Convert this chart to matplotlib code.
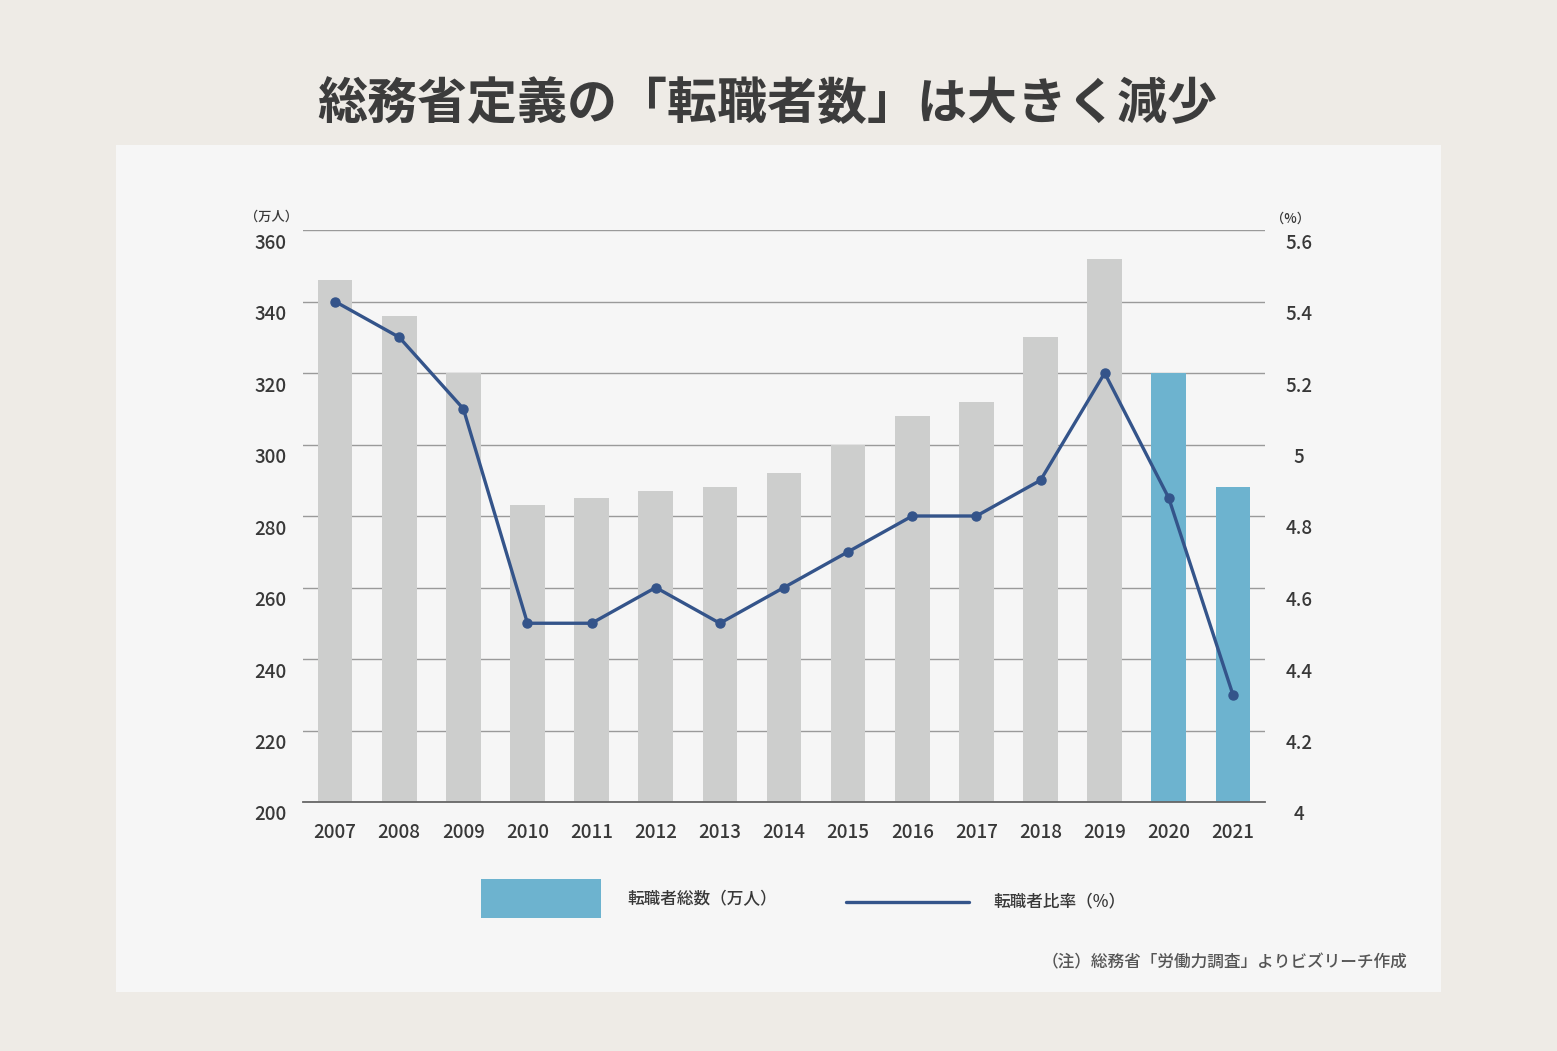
import matplotlib.pyplot as plt
from matplotlib.patches import Rectangle
from matplotlib.lines import Line2D
from matplotlib.transforms import ScaledTranslation

plt.rcParams['font.family'] = ['Noto Sans CJK JP', 'DejaVu Sans']

years = ['2007', '2008', '2009', '2010', '2011', '2012', '2013', '2014',
         '2015', '2016', '2017', '2018', '2019', '2020', '2021']
# 転職者総数（万人）
movers = [346, 336, 320, 283, 285, 287, 288, 292, 300, 308, 312, 330, 352, 320, 288]
# 転職者比率（%）
ratio = [5.4, 5.3, 5.1, 4.5, 4.5, 4.6, 4.5, 4.6, 4.7, 4.8, 4.8, 4.9, 5.2, 4.85, 4.3]

left_ticks = [200, 220, 240, 260, 280, 300, 320, 340, 360]
right_ticks = [4, 4.2, 4.4, 4.6, 4.8, 5, 5.2, 5.4, 5.6]
legend_labels = ['転職者総数（万人）', '転職者比率（%）']

gray = '#cdcecd'
blue = '#6db3cf'
navy = '#34548a'
txt = '#383838'
wt = 'medium'

W, H = 1557, 1051
fig = plt.figure(figsize=(15.57, 10.51), dpi=100, facecolor='#eeebe6')
fig.patches.append(Rectangle((116 / W, 59 / H), 1325 / W, 847 / H,
                             transform=fig.transFigure, facecolor='#f6f6f6',
                             edgecolor='none', zorder=-10))

ax = fig.add_axes([303 / W, 249 / H, 962 / W, 572 / H])
ax.set_facecolor('none')
x = list(range(len(years)))
colors = [gray] * 13 + [blue] * 2
ax.bar(x, [m - 200 for m in movers], bottom=200, width=0.54, color=colors, zorder=2)
ax.set_xlim(-0.5, 14.5)
ax.set_ylim(200, 360)
ax.set_yticks(left_ticks)
ax.set_yticklabels([str(t) for t in left_ticks])
ax.set_xticks(x)
ax.set_xticklabels(years)
ax.grid(axis='y', color='#9a9a9a', linewidth=1, zorder=1)
for s in ['top', 'left', 'right']:
    ax.spines[s].set_visible(False)
ax.spines['bottom'].set_color('#666666')
ax.spines['bottom'].set_linewidth(1.3)
ax.tick_params(axis='y', length=0, pad=12, labelsize=13.5, labelcolor=txt)
ax.tick_params(axis='x', length=0, pad=15, labelsize=13.5, labelcolor=txt)
for lab in ax.get_xticklabels() + ax.get_yticklabels():
    lab.set_fontweight(wt)

ax2 = ax.twinx()
ax2.plot(x, ratio, color=navy, linewidth=2.4, marker='o', markersize=6.5, zorder=3)
ax2.set_ylim(4, 5.6)
ax2.set_yticks(right_ticks)
ax2.set_yticklabels(['%g' % t for t in right_ticks], ha='center')
for s in ['top', 'left', 'right', 'bottom']:
    ax2.spines[s].set_visible(False)
ax2.tick_params(axis='y', length=0, pad=24.5, labelsize=13.5, labelcolor=txt)
for lab in ax2.get_yticklabels():
    lab.set_fontweight(wt)

# tick labels sit a little below their gridlines
shift = ScaledTranslation(0, -0.11, fig.dpi_scale_trans)
for t in ax.yaxis.get_major_ticks() + ax2.yaxis.get_major_ticks():
    t.label1.set_transform(t.label1.get_transform() + shift)
    t.label2.set_transform(t.label2.get_transform() + shift)

fig.text(272 / W, 1 - 217 / H, '（万人）', ha='center', va='center',
         fontsize=9.5, color=txt, fontweight=wt)
fig.text(1291 / W, 1 - 219 / H, '（%）', ha='center', va='center',
         fontsize=9.5, color=txt, fontweight=wt)

fig.text(767 / W, 1 - 104 / H, '総務省定義の「転職者数」は大きく減少',
         ha='center', va='center', fontsize=36, fontweight='bold', color='#3c3c3c')

# legend
fig.patches.append(Rectangle((481 / W, 1 - 918 / H), 120 / W, 39 / H,
                             transform=fig.transFigure, facecolor=blue,
                             edgecolor='none'))
fig.text(627 / W, 1 - 899 / H, legend_labels[0], ha='left', va='center',
         fontsize=12, fontweight=wt, color=txt)
fig.lines.append(Line2D([846 / W, 969 / W], [1 - 902 / H, 1 - 902 / H],
                        transform=fig.transFigure, color=navy, linewidth=2.4,
                        solid_capstyle='round'))
fig.text(993 / W, 1 - 901 / H, legend_labels[1], ha='left', va='center',
         fontsize=12, fontweight=wt, color=txt)

fig.text(1407 / W, 1 - 962 / H, '（注）総務省「労働力調査」よりビズリーチ作成',
         ha='right', va='center', fontsize=12, fontweight=wt, color='#555555')

fig.savefig('out.png', dpi=100, facecolor=fig.get_facecolor())
